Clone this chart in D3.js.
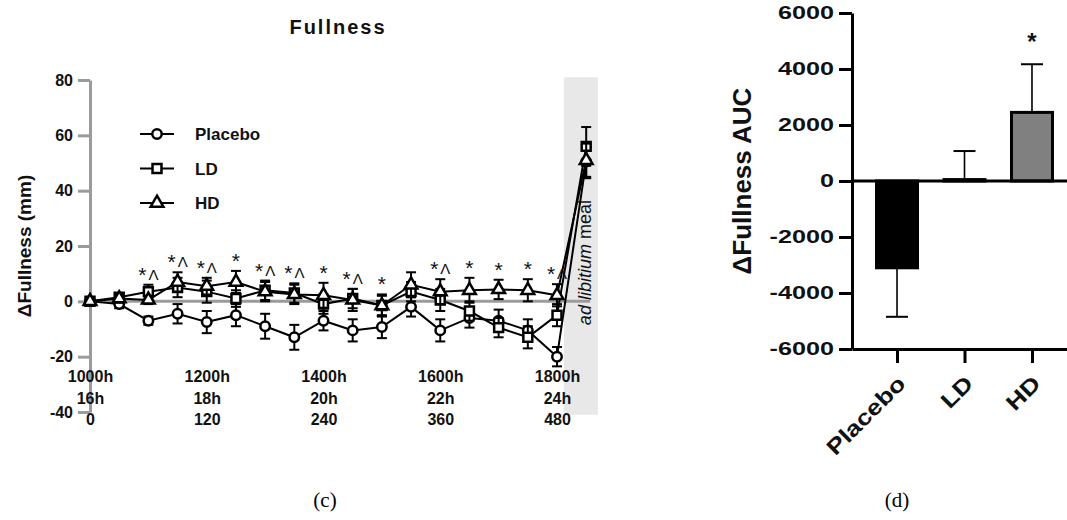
<!DOCTYPE html>
<html lang="en">
<head>
<meta charset="UTF-8">
<title>Fullness</title>
<style>
  body { margin: 0; background: #fff; }
  svg { display: block; font-family: "Liberation Sans", Arial, sans-serif; }
</style>
<script src="https://d3js.org/d3.v7.min.js"></script>
</head>
<body>
<svg id="chart" width="1067" height="520"></svg>
<script>
// ---- data: panel (c), time course ----
const times = [0, 30, 60, 90, 120, 150, 180, 210, 240, 270, 300, 330, 360, 390, 420, 450, 480, 510]; // last = ad libitum meal
const placebo    = [0, -1, -7, -4.5, -7.5, -5, -9, -13, -7, -10.5, -9.3, -2, -10.5, -6, -7, -10.5, -20, 50.5];
const placeboErr = [0, 1.5, 1.5, 3.5, 4, 4, 4.5, 4.5, 3.5, 4, 4, 3.5, 4, 3.5, 4, 4, 3.5, 6];
const ld         = [0, 1.5, 3.5, 5, 3.5, 1, 4, 3, -1, 1, -1.5, 3.5, 0.5, -3.5, -9.5, -13, -5, 56];
const ldErr      = [0, 1.5, 2.5, 3.5, 4, 3, 3.5, 3.5, 3.5, 3.5, 3.5, 3.5, 4, 3.5, 3.5, 4, 4, 7];
const hd         = [0, 1, 0.5, 7, 5.5, 7, 3.5, 2.5, 2.2, 0.5, -1.5, 6, 3.5, 4, 4.3, 4, 2.2, 51];
const hdErr      = [0, 1.5, 1.5, 3.5, 3, 4, 3.5, 3.5, 4.5, 4, 4, 4.5, 4.5, 4.5, 3.5, 4, 4, 6];
// "*" = vs placebo, "^" = second comparison
const signif     = ["", "", "*^", "*^", "*^", "*", "*^", "*^", "*", "*^", "*", "", "*^", "*", "*", "*", "*^"];
const timeTicks  = [0, 120, 240, 360, 480];
const clockLabels = ["1000h", "1200h", "1400h", "1600h", "1800h"];
const hourLabels  = ["16h", "18h", "20h", "22h", "24h"];
const yTicksC = [-40, -20, 0, 20, 40, 60, 80];

// ---- data: panel (d), AUC ----
const groups  = ["Placebo", "LD", "HD"];
const aucMean = [-3100, 50, 2450];
const aucErr  = [1750, 1020, 1720];
const aucSig  = ["", "", "*"];
const yTicksD = [-6000, -4000, -2000, 0, 2000, 4000, 6000];

const svg = d3.select('#chart');
const axisGray = '#9b9b9b';
const plain = d => String(d);

// ================= panel (c) =================
const x = d3.scaleLinear().domain([0, 480]).range([90, 557]);
const y = d3.scaleLinear().domain([-40, 80]).range([412, 80]);

// shaded ad libitum region
svg.append('rect')
  .attr('x', x(487)).attr('y', y(81))
  .attr('width', x(522) - x(487)).attr('height', y(-41) - y(81))
  .attr('fill', '#e8e8e8');

svg.append('text')
  .attr('transform', `translate(${x(515)},${y(14)}) rotate(-90)`)
  .attr('text-anchor', 'middle')
  .attr('font-size', 18)
  .attr('fill', '#111')
  .html('<tspan font-style="italic">ad libitium</tspan> meal');

// zero line
svg.append('line')
  .attr('x1', x(0)).attr('x2', x(514))
  .attr('y1', y(0)).attr('y2', y(0))
  .attr('stroke', axisGray).attr('stroke-width', 3);

// y axis
const yAxis = svg.append('g')
  .attr('transform', `translate(${x(0)},0)`)
  .call(d3.axisLeft(y).tickValues(yTicksC).tickFormat(plain).tickSize(12).tickSizeOuter(0).tickPadding(5));
yAxis.select('.domain').attr('stroke', axisGray).attr('stroke-width', 3);
yAxis.selectAll('.tick line').attr('stroke', axisGray).attr('stroke-width', 3);
yAxis.selectAll('.tick text')
  .attr('font-size', 16).attr('font-weight', 'bold').attr('fill', '#111')
  .attr('font-family', '"Liberation Sans", Arial, sans-serif');

// three rows of x labels
const rows = [
  { fmt: (d, i) => clockLabels[i], base: 382 },
  { fmt: (d, i) => hourLabels[i], base: 404 },
  { fmt: plain, base: 425 }
];
rows.forEach(r => {
  const g = svg.append('g')
    .attr('transform', `translate(0,${r.base})`)
    .call(d3.axisBottom(x).tickValues(timeTicks).tickSize(0).tickFormat(r.fmt));
  g.select('.domain').remove();
  g.selectAll('.tick text')
    .attr('y', 0).attr('dy', 0)
    .attr('font-size', 16).attr('font-weight', 'bold').attr('fill', '#111')
    .attr('font-family', '"Liberation Sans", Arial, sans-serif');
});

// y label
svg.append('text')
  .attr('transform', `translate(31,246) rotate(-90)`)
  .attr('text-anchor', 'middle')
  .attr('font-size', 19).attr('font-weight', 'bold').attr('fill', '#111')
  .text('\u0394Fullness (mm)');

// title
svg.append('text')
  .attr('x', 338).attr('y', 34)
  .attr('text-anchor', 'middle')
  .attr('font-size', 20).attr('font-weight', 'bold')
  .attr('letter-spacing', 2).attr('fill', '#111')
  .text('Fullness');

const series = [
  { name: 'Placebo', vals: placebo, err: placeboErr, sym: d3.symbolCircle, size: 70 },
  { name: 'LD', vals: ld, err: ldErr, sym: d3.symbolSquare, size: 80 },
  { name: 'HD', vals: hd, err: hdErr, sym: d3.symbolTriangle, size: 70 }
];

const line = d3.line().x(d => x(d.t)).y(d => y(d.v));

series.forEach(s => {
  const pts = times.map((t, i) => ({ t, v: s.vals[i], e: s.err[i] }));
  const g = svg.append('g');
  g.append('path')
    .attr('d', line(pts))
    .attr('fill', 'none').attr('stroke', '#000').attr('stroke-width', 2);
  const eb = g.selectAll('.eb').data(pts.filter(p => p.e > 0)).enter().append('g');
  eb.append('line')
    .attr('x1', p => x(p.t)).attr('x2', p => x(p.t))
    .attr('y1', p => y(p.v - p.e)).attr('y2', p => y(p.v + p.e))
    .attr('stroke', '#000').attr('stroke-width', 2);
  [1, -1].forEach(sg => {
    eb.append('line')
      .attr('x1', p => x(p.t) - 5).attr('x2', p => x(p.t) + 5)
      .attr('y1', p => y(p.v + sg * p.e)).attr('y2', p => y(p.v + sg * p.e))
      .attr('stroke', '#000').attr('stroke-width', 2);
  });
  g.selectAll('.mk').data(pts).enter().append('path')
    .attr('transform', p => `translate(${x(p.t)},${y(p.v)})`)
    .attr('d', d3.symbol().type(s.sym).size(s.size))
    .attr('fill', '#fff').attr('stroke', '#000').attr('stroke-width', 2.5);
});

// significance marks: asterisk + caret drawn as a lambda-like glyph
const sig = svg.append('g').selectAll('text')
  .data(signif.map((lab, i) => ({ lab, i })).filter(d => d.lab))
  .enter().append('text')
  .attr('x', d => x(times[d.i]))
  .attr('y', d => y(d3.max(series, s => s.vals[d.i] + s.err[d.i])) - 3)
  .attr('text-anchor', 'middle')
  .attr('fill', '#111');
sig.append('tspan').attr('font-size', 21).text('*');
sig.filter(d => d.lab.includes('^')).append('tspan')
  .attr('font-size', 15).attr('dx', 2).attr('dy', -2)
  .text('\u039B');

// legend
series.forEach((s, i) => {
  const ly = 134 + i * 34.5;
  svg.append('line')
    .attr('x1', 140).attr('x2', 174).attr('y1', ly).attr('y2', ly)
    .attr('stroke', '#000').attr('stroke-width', 2);
  svg.append('path')
    .attr('transform', `translate(157,${ly})`)
    .attr('d', d3.symbol().type(s.sym).size(s.size))
    .attr('fill', '#fff').attr('stroke', '#000').attr('stroke-width', 2.5);
  svg.append('text')
    .attr('x', 195).attr('y', ly + 6)
    .attr('font-size', 17).attr('font-weight', 'bold').attr('fill', '#111')
    .text(s.name);
});

svg.append('text')
  .attr('x', 325).attr('y', 507)
  .attr('text-anchor', 'middle')
  .attr('font-family', '"Liberation Serif", "DejaVu Serif", serif')
  .attr('font-size', 21)
  .text('(c)');

// ================= panel (d) =================
const xb = d3.scalePoint().domain(groups).range([852, 1077]).padding(0.667);
const yb = d3.scaleLinear().domain([-6000, 6000]).range([349, 13]);
const barW = 44;

// error bars (one-sided, drawn behind bars)
groups.forEach((gname, i) => {
  const v = aucMean[i];
  const tip = v < 0 ? v - aucErr[i] : v + aucErr[i];
  svg.append('line')
    .attr('x1', xb(gname)).attr('x2', xb(gname))
    .attr('y1', yb(v)).attr('y2', yb(tip))
    .attr('stroke', '#000').attr('stroke-width', 1.6);
  svg.append('line')
    .attr('x1', xb(gname) - 11).attr('x2', xb(gname) + 11)
    .attr('y1', yb(tip)).attr('y2', yb(tip))
    .attr('stroke', '#000').attr('stroke-width', 2);
});

const barFill = ['#000', '#fff', '#808080'];
svg.append('g').selectAll('rect')
  .data(groups)
  .enter().append('rect')
  .attr('x', d => xb(d) - barW / 2 + 1.5)
  .attr('width', barW - 3)
  .attr('y', (d, i) => Math.min(yb(aucMean[i]), yb(0)))
  .attr('height', (d, i) => Math.max(Math.abs(yb(aucMean[i]) - yb(0)), 1))
  .attr('fill', (d, i) => barFill[i])
  .attr('stroke', '#000').attr('stroke-width', 3);

// zero line
svg.append('line')
  .attr('x1', 852).attr('x2', 1067)
  .attr('y1', yb(0)).attr('y2', yb(0))
  .attr('stroke', '#000').attr('stroke-width', 3);

const yAxisD = svg.append('g')
  .attr('transform', 'translate(852,0)')
  .call(d3.axisLeft(yb).tickValues(yTicksD).tickFormat(plain).tickSize(13).tickSizeOuter(0).tickPadding(5));
yAxisD.select('.domain').attr('stroke', '#000').attr('stroke-width', 3);
yAxisD.selectAll('.tick line').attr('stroke', '#000').attr('stroke-width', 3);
yAxisD.selectAll('.tick text')
  .attr('x', 0)
  .attr('transform', 'translate(-18,0) scale(1.4,1)')
  .attr('font-size', 18).attr('font-weight', 'bold').attr('fill', '#111')
  .attr('font-family', '"Liberation Sans", Arial, sans-serif');

const xAxisD = svg.append('g')
  .attr('transform', `translate(0,${yb(-6000)})`)
  .call(d3.axisBottom(xb).tickSize(14).tickSizeOuter(0).tickFormat(''));
xAxisD.select('.domain').attr('stroke', '#000').attr('stroke-width', 3);
xAxisD.selectAll('.tick line').attr('stroke', '#000').attr('stroke-width', 3);

svg.append('g').selectAll('text')
  .data(groups)
  .enter().append('text')
  .attr('transform', d => `translate(${xb(d) + 10},${yb(-6000) + 36}) rotate(-45) scale(1.2,1)`)
  .attr('text-anchor', 'end')
  .attr('font-size', 22).attr('font-weight', 'bold').attr('fill', '#111')
  .text(d => d);

svg.append('text')
  .attr('transform', `translate(751,${yb(0)}) rotate(-90)`)
  .attr('text-anchor', 'middle')
  .attr('font-size', 26).attr('font-weight', 'bold').attr('fill', '#111')
  .text('\u0394Fullness AUC');

svg.append('g').selectAll('text')
  .data(groups.map((gname, i) => ({ gname, i })).filter(d => aucSig[d.i]))
  .enter().append('text')
  .attr('x', d => xb(d.gname))
  .attr('y', d => yb(aucMean[d.i] + aucErr[d.i]) - 14)
  .attr('text-anchor', 'middle')
  .attr('font-size', 24).attr('font-weight', 'bold').attr('fill', '#111')
  .text(d => aucSig[d.i]);

svg.append('text')
  .attr('x', 897).attr('y', 507)
  .attr('text-anchor', 'middle')
  .attr('font-family', '"Liberation Serif", "DejaVu Serif", serif')
  .attr('font-size', 21)
  .text('(d)');
</script>
</body>
</html>
